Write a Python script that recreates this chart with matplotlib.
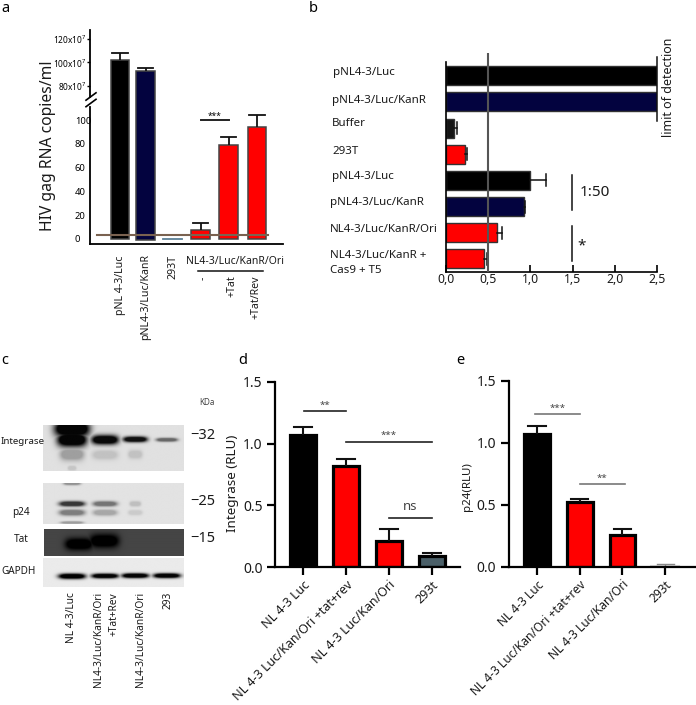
"""Multi panel figure: HIV RNA copies, RT activity, western blots and band quantification."""

import matplotlib
matplotlib.use("Agg")
import matplotlib.pyplot as plt
import numpy as np

plt.rcParams["font.family"] = ["Noto Sans", "DejaVu Sans"]
plt.rcParams["mathtext.default"] = "regular"

W, H = 696, 705
BLACK, NAVY, RED, SLATE = "#000000", "#03033f", "#ff0000", "#4a5f68"

# panel a
a_labels = ["pNL 4-3/Luc", "pNL4-3/Luc/KanR", "293T", "-", "+Tat", "+Tat/Rev"]
a_colors = [BLACK, NAVY, SLATE, RED, RED, RED]
a_high_values = [102, 93]
a_high_errors = [107.5, 95.5]
a_low_values = [None, None, 0, 7.5, 79, 94]
a_low_errors = [None, None, None, 13, 86, 104]
a_high_ticks = [80, 100, 120]
a_low_ticks = [0, 20, 40, 60, 80, 100]
a_cutoff = 3.6

# panel b
b_labels = ["pNL4-3/Luc", "pNL4-3/Luc/KanR", "Buffer", "293T", "pNL4-3/Luc",
            "pNL4-3/Luc/KanR", "NL4-3/Luc/KanR/Ori", "NL4-3/Luc/KanR +\nCas9 + T5"]
b_colors = [BLACK, NAVY, "#151515", RED, BLACK, NAVY, RED, RED]
b_values = [2.5, 2.5, 0.10, 0.22, 1.0, 0.92, 0.60, 0.45]
b_errors = [None, None, 0.125, 0.25, 1.18, 0.94, 0.66, 0.48]
b_ticks = ["0,0", "0,5", "1,0", "1,5", "2,0", "2,5"]

# panel c, bands as (lane, height in blot 0-1, darkness, width, thickness)
blot_lanes = ["NL 4-3/Luc", "NL4-3/Luc/KanR/Ori\n+Tat+Rev", "NL4-3/Luc/KanR/Ori", "293"]
integrase_bands = [(0, 0.68, 1.0, 0.105, 0.15), (0, 0.92, 1.0, 0.125, 0.18),
                   (1, 0.68, 0.98, 0.095, 0.10), (2, 0.69, 0.95, 0.085, 0.06),
                   (3, 0.68, 0.55, 0.075, 0.04), (0, 0.36, 0.3, 0.085, 0.13),
                   (1, 0.35, 0.14, 0.09, 0.10), (2, 0.36, 0.14, 0.05, 0.09),
                   (0, 0.06, 0.12, 0.03, 0.05)]
p24_bands = [(0, 0.48, 0.85, 0.09, 0.06), (1, 0.48, 0.55, 0.085, 0.06),
             (2, 0.48, 0.18, 0.04, 0.06), (0, 0.27, 0.5, 0.09, 0.07),
             (1, 0.27, 0.3, 0.085, 0.07), (2, 0.27, 0.12, 0.05, 0.06),
             (0, 0.97, 0.4, 0.06, 0.04), (0, 0.03, 0.35, 0.08, 0.03)]
tat_bands = [(0, 0.44, 1.0, 0.10, 0.22), (1, 0.56, 1.0, 0.105, 0.25)]
gapdh_bands = [(0, 0.37, 1.0, 0.095, 0.09), (1, 0.38, 0.98, 0.095, 0.08),
               (2, 0.39, 0.98, 0.095, 0.08), (3, 0.39, 0.98, 0.095, 0.08)]

# panels d and e
rlu_labels = ["NL 4-3 Luc", "NL 4-3 Luc/Kan/Ori +tat+rev", "NL 4-3 Luc/Kan/Ori", "293t"]
rlu_ticks = [0.0, 0.5, 1.0, 1.5]
d_values = [1.07, 0.82, 0.21, 0.095]
d_errors = [1.13, 0.875, 0.31, 0.115]
d_colors = [BLACK, RED, RED, SLATE]
e_values = [1.07, 0.52, 0.26, 0.01]
e_errors = [1.135, 0.55, 0.305, 0.025]
e_colors = [BLACK, RED, RED, "#d8d8d8"]


def px_axes(fig, x0, y0, x1, y1):
    """Axes placed by reference pixels, y counted from the top."""
    ax = fig.add_axes([x0 / W, 1 - y1 / H, (x1 - x0) / W, (y1 - y0) / H])
    ax.patch.set_alpha(0)
    for side in ["top", "right"]:
        ax.spines[side].set_visible(False)
    return ax


def px_text(fig, x, y, s, **kwargs):
    kwargs.setdefault("ha", "center")
    kwargs.setdefault("va", "center")
    kwargs.setdefault("color", "#1a1a1a")
    return fig.text(x / W, 1 - y / H, s, **kwargs)


def error_cap(ax, x, top, base, half, lw=1.2, color="#111111"):
    ax.plot([x, x], [base, top], color=color, lw=lw, solid_capstyle="butt")
    ax.plot([x - half, x + half], [top, top], color=color, lw=lw)


def draw_blot(fig, box, bands, background, lane_x, dark=0.02):
    """Paint soft bands on a grey strip."""
    ax = px_axes(fig, *box)
    ax.set_axis_off()
    x, y = np.meshgrid(np.linspace(0, 1, 280), np.linspace(1, 0, 120))
    shade = np.zeros_like(x)
    for lane, height, level, width, thick in bands:
        dist = ((x - lane_x[lane]) / width) ** 4 + ((y - height) / thick) ** 2
        shade = np.maximum(shade, level * np.minimum(1, 1.6 * np.exp(-dist)))
    img = background + (dark - background) * shade
    ax.imshow(img, cmap="gray", vmin=0, vmax=1, aspect="auto", extent=(0, 1, 0, 1))
    return ax


def rlu_panel(fig, box, values, errors, colors, ylabel, label_pos, label_size, tick_size):
    ax = px_axes(fig, *box)
    x = np.arange(len(values))
    for i, v in enumerate(values):
        fill = colors[i]
        if fill == "#d8d8d8":
            ax.plot([i - 0.33, i + 0.33], [v, v], color=fill, lw=1.5)
            error_cap(ax, i, errors[i], v, 0.2, lw=1.0, color="#888888")
        else:
            ax.bar(i, v, width=0.6, color=fill, edgecolor="black", lw=2.3, zorder=2)
            error_cap(ax, i, errors[i], v, 0.2, lw=1.5)
    ax.set_ylim(0, 1.5)
    ax.set_yticks(rlu_ticks, [f"{t:.1f}" for t in rlu_ticks], fontsize=10, color="#1a1a1a")
    ax.set_xticks(x)
    ax.set_xticklabels(rlu_labels, rotation=45, ha="right", rotation_mode="anchor",
                       fontsize=tick_size, color="#1a1a1a")
    ax.tick_params(axis="y", width=1.6, length=6, pad=3)
    ax.tick_params(axis="x", width=1.6, length=6, pad=2)
    for side in ["left", "bottom"]:
        ax.spines[side].set_linewidth(1.6)
    px_text(fig, label_pos[0], label_pos[1], ylabel, rotation=90, fontsize=label_size)
    return ax


def sig_line(ax, x0, x1, y, text, color="#222222", dy=0.0, size=7):
    ax.plot([x0, x1], [y, y], color=color, lw=1.2, clip_on=False)
    ax.text((x0 + x1) / 2, y + dy, text, ha="center", va="center", fontsize=size, color="#444444")


fig = plt.figure(figsize=(W / 100, H / 100), dpi=100)

for letter, x, y in [("a", 5, 8), ("b", 313, 8), ("c", 5, 360), ("d", 243, 360), ("e", 460, 360)]:
    px_text(fig, x, y, letter, fontsize=10.5, color="black")

# panel a, broken axis
bar_x = [0.18, 1.16, 2.21, 3.28, 4.36, 5.45]
a_low_top = 111
ax_low = px_axes(fig, 90, 107, 283, 243.7)
ax_low.set_xlim(-0.98, 6.46)
ax_low.set_ylim(-4, a_low_top)
for i, x in enumerate(bar_x):
    v = a_low_values[i] if a_low_values[i] is not None else a_low_top + 5
    if a_labels[i] == "293T":
        ax_low.plot([x - 0.36, x + 0.36], [-0.3, -0.3], color="#5b7f95", lw=1.3)
        continue
    base = -1 if i == 1 else 0
    ax_low.bar(x, v - base, bottom=base, width=0.7, color=a_colors[i], edgecolor="#444444", lw=1.1)
    if a_low_errors[i] is not None:
        error_cap(ax_low, x, a_low_errors[i], v, 0.3, lw=1.3)
ax_low.plot([-0.72, 5.9], [a_cutoff, a_cutoff], color="#7a6250", lw=1.5, zorder=5)
ax_low.set_yticks(a_low_ticks, [str(t) for t in a_low_ticks], fontsize=6.8)
for label in ax_low.get_yticklabels():
    label.set_ha("left")
ax_low.set_xticks([])
ax_low.tick_params(axis="y", length=0, pad=11)
ax_low.spines["left"].set_linewidth(1.3)
ax_low.spines["bottom"].set_linewidth(1.3)
ax_low.plot([3.28, 4.36], [100, 100], color="#222222", lw=1.4)
ax_low.text(3.82, 103.3, "***", ha="center", va="center", fontsize=6)

ax_high = px_axes(fig, 90, 30, 283, 107)
ax_high.set_xlim(-0.98, 6.46)
ax_high.set_ylim(62.4, 127.3)
for i in range(2):
    ax_high.bar(bar_x[i], a_high_values[i], width=0.7, color=a_colors[i], edgecolor="#444444", lw=1.1)
    error_cap(ax_high, bar_x[i], a_high_errors[i], a_high_values[i], 0.3, lw=1.3)
ax_high.set_yticks(a_high_ticks, [f"{t}x10$^7$" for t in a_high_ticks], fontsize=6)
ax_high.set_xticks([])
ax_high.tick_params(axis="y", length=2.5, width=1, pad=0)
ax_high.spines["bottom"].set_visible(False)
ax_high.spines["left"].set_linewidth(1.3)
ax_high.spines["left"].set_bounds(71, 127.3)
for y in [96.5, 103]:
    fig.add_artist(plt.Line2D([86 / W, 96 / W], [1 - (y + 3.7) / H, 1 - (y - 3.7) / H],
                              color="black", lw=1.2))

px_text(fig, 48, 146, "HIV gag RNA copies/ml", rotation=90, fontsize=11.3)
for x, y, label in zip([120, 146, 173, 203, 232, 256], [285, 297, 267, 278, 286, 297], a_labels):
    px_text(fig, x, y, label, rotation=90, fontsize=7.6, va="center")
px_text(fig, 235, 262, "NL4-3/Luc/KanR/Ori", fontsize=7.5)
fig.add_artist(plt.Line2D([198 / W, 263 / W], [1 - 271 / H] * 2, color="#111111", lw=1.1))

# panel b
ax_b = px_axes(fig, 446, 53, 657, 271.7)
b_pos = [75, 101, 128, 154, 180, 207, 233, 259]
ax_b.set_xlim(0, 2.5)
ax_b.set_ylim(271.7, 53)
for i, y in enumerate(b_pos):
    ax_b.barh(y, b_values[i], height=19, color=b_colors[i], edgecolor="#333333", lw=1.0)
    if b_errors[i] is not None:
        ax_b.plot([b_values[i], b_errors[i]], [y, y], color="#111111", lw=1.1)
        ax_b.plot([b_errors[i]] * 2, [y - 6, y + 6], color="#111111", lw=1.1)
ax_b.axvline(0.5, color="#555555", lw=1.5, zorder=4)
ax_b.plot([2.5, 2.5], [57, 121], color="#111111", lw=1.1, clip_on=False)
ax_b.plot([1.49, 1.49], [175, 210], color="#111111", lw=1.1)
ax_b.plot([1.49, 1.49], [226, 261], color="#111111", lw=1.1)
ax_b.text(1.58, 193, "1:50", fontsize=11, ha="left", va="center", color="#1a1a1a")
ax_b.text(1.61, 246, "*", fontsize=11, ha="center", va="center", color="#1a1a1a")
ax_b.spines["left"].set_bounds(271.7, 62)
ax_b.spines["left"].set_linewidth(1.2)
ax_b.spines["bottom"].set_linewidth(1.2)
ax_b.set_yticks([])
ax_b.set_xticks(np.arange(6) * 0.5, b_ticks, fontsize=8.8, color="#1a1a1a")
ax_b.tick_params(axis="x", direction="in", length=5, width=1.2, pad=1)
b_text_x = [333, 332, 332, 332, 332, 330, 330, 330]
for i, y in enumerate([73, 100, 124, 151, 176, 202, 229, 263]):
    px_text(fig, b_text_x[i], y, b_labels[i], ha="left", fontsize=8.3, linespacing=1.45)
px_text(fig, 669, 87, "limit of detection", rotation=90, fontsize=9)

# panel c, blots
lanes = [0.205, 0.44, 0.655, 0.88]
draw_blot(fig, (43, 425, 184, 470.7), integrase_bands, 0.88, lanes)
draw_blot(fig, (43, 482.7, 184, 523.7), p24_bands, 0.89, lanes, dark=0.1)
draw_blot(fig, (44, 529, 184, 555.7), tat_bands, 0.27, [0.25, 0.43], dark=0.0)
draw_blot(fig, (43, 558, 184, 586.7), gapdh_bands, 0.92, lanes, dark=0.0)
px_text(fig, 0.5, 441, "Integrase", fontsize=7, ha="left")
for y, label, x in [(513, "p24", 21), (539, "Tat", 21), (572, "GAPDH", 19)]:
    px_text(fig, x, y, label, fontsize=7.2)
px_text(fig, 207, 402, "KDa", fontsize=5.8, color="#444444")
for y, label in [(435.7, "\u221232"), (501.7, "\u221225"), (538.7, "\u221215")]:
    px_text(fig, 203, y, label, fontsize=10.5)
for x, label in zip([71, 106, 140, 168], blot_lanes):
    px_text(fig, x, 592, label, rotation=90, fontsize=7.3, va="top", multialignment="right",
            linespacing=1.55)

# panels d and e
ax_d = rlu_panel(fig, (275, 381.7, 460, 567.3), d_values, d_errors, d_colors,
                 "Integrase (RLU)", (232.5, 483), 9.7, 9.0)
ax_d.set_xlim(-0.65, 3.65)
sig_line(ax_d, 0.02, 1.0, 1.26, "**", dy=0.05)
sig_line(ax_d, 1.0, 3.0, 1.013, "***", dy=0.05)
sig_line(ax_d, 2.0, 3.0, 0.40, "ns", dy=0.09, size=9.5)

ax_e = rlu_panel(fig, (508.7, 380.7, 696, 567), e_values, e_errors, e_colors,
                 "p24(RLU)", (468, 487), 8.3, 8.6)
ax_e.set_xlim(-0.663, 3.72)
sig_line(ax_e, -0.05, 1.0, 1.23, "***", color="#777777", dy=0.05)
sig_line(ax_e, 1.0, 2.05, 0.665, "**", color="#777777", dy=0.05)

fig.savefig("out.png", dpi=100)
